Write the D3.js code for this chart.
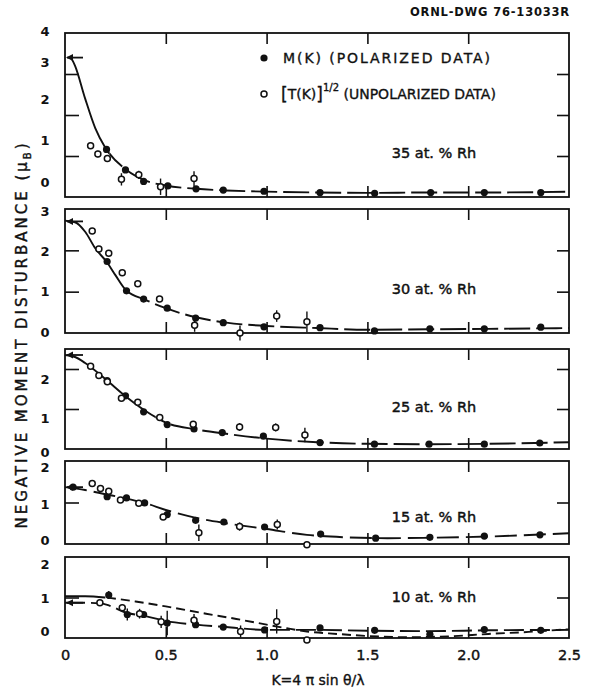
<!DOCTYPE html>
<html>
<head>
<meta charset="utf-8">
<script src="https://cdn.jsdelivr.net/npm/d3@7/dist/d3.min.js"></script>
<style>
  body { margin: 0; background: #fff; }
  text { font-family: 'DejaVu Sans', sans-serif; fill: #111; }
</style>
</head>
<body>
<div class="container"></div>
<script>
// values; K in 1/Angstrom, moment in mu_B
const kTicks = [0, 0.5, 1.0, 1.5, 2.0, 2.5]
const panelNames = ['35 at. % Rh', '30 at. % Rh', '25 at. % Rh', '15 at. % Rh', '10 at. % Rh']
const panelMax = [4, 3, 2.5, 2, 2]
const yTickLabels = [[0, 1, 2, 3, 4], [0, 1, 2, 3], [0, 1, 2], [0, 1, 2], [0, 1, 2]]
const momentAtZero = [3.4, 2.7, 2.35, 1.37, 0.87]

// M(K), polarized data: [K, M] (10 % also has error)
const rh35M = [[0.206, 1.16], [0.30, 0.66], [0.39, 0.38], [0.51, 0.27], [0.65, 0.2], [0.785, 0.17], [0.987, 0.14], [1.265, 0.11], [1.536, 0.09], [1.814, 0.11], [2.08, 0.11], [2.36, 0.11]]
const rh30M = [[0.209, 1.73], [0.305, 1.02], [0.39, 0.82], [0.507, 0.6], [0.648, 0.36], [0.785, 0.25], [0.987, 0.15], [1.265, 0.13], [1.535, 0.05], [1.81, 0.1], [2.08, 0.1], [2.36, 0.14]]
const rh25M = [[0.209, 1.71], [0.30, 1.33], [0.39, 0.93], [0.507, 0.61], [0.64, 0.5], [0.78, 0.41], [0.984, 0.32], [1.265, 0.16], [1.535, 0.12], [1.806, 0.12], [2.08, 0.12], [2.355, 0.15]]
const rh15M = [[0.04, 1.37], [0.209, 1.14], [0.305, 1.11], [0.395, 0.99], [0.507, 0.71], [0.648, 0.57], [0.788, 0.53], [0.99, 0.41], [1.268, 0.24], [1.541, 0.14], [1.81, 0.16], [2.08, 0.19], [2.356, 0.22]]
const rh10M = [[0.217, 1.06, 0.1], [0.309, 0.58, 0.15], [0.39, 0.58, 0], [0.507, 0.37, 0.3], [0.648, 0.33, 0], [0.785, 0.27, 0], [0.99, 0.2, 0], [1.265, 0.25, 0], [1.536, 0.19, 0], [1.81, 0.09, 0], [2.08, 0.21, 0], [2.36, 0.19, 0]]

// [T(K)]^1/2, unpolarized data: [K, value, error]
const rh35T = [[0.127, 1.25, 0.08], [0.163, 1.05, 0.08], [0.21, 0.94, 0.06], [0.28, 0.43, 0.15], [0.366, 0.54, 0.1], [0.474, 0.25, 0.2], [0.64, 0.45, 0.18]]
const rh30T = [[0.135, 2.47, 0], [0.168, 2.03, 0], [0.217, 1.93, 0], [0.284, 1.46, 0], [0.361, 1.19, 0], [0.469, 0.82, 0], [0.643, 0.19, 0.16], [0.868, 0.0, 0.18], [1.05, 0.41, 0.14], [1.2, 0.27, 0.25]]
const rh25T = [[0.127, 2.07, 0.05], [0.168, 1.84, 0], [0.21, 1.68, 0], [0.28, 1.27, 0], [0.361, 1.17, 0], [0.47, 0.79, 0], [0.636, 0.62, 0], [0.866, 0.55, 0.1], [1.045, 0.54, 0.1], [1.19, 0.35, 0.18]]
const rh15T = [[0.135, 1.46, 0], [0.176, 1.34, 0], [0.217, 1.27, 0.06], [0.275, 1.06, 0], [0.366, 0.98, 0], [0.487, 0.65, 0.06], [0.664, 0.27, 0.2], [0.866, 0.42, 0.1], [1.053, 0.47, 0.12], [1.2, -0.02, 0.05]]
const rh10T = [[0.173, 0.87, 0], [0.284, 0.75, 0.08], [0.37, 0.6, 0.12], [0.477, 0.4, 0.15], [0.64, 0.44, 0.15], [0.871, 0.16, 0.15], [1.05, 0.41, 0.3], [1.2, -0.05, 0]]

// drawn curves, points
const rh35Fit = [[0.03, 3.4], [0.05, 3.2], [0.1, 2.4], [0.15, 1.68], [0.2, 1.2], [0.3, 0.68], [0.4, 0.4], [0.5, 0.28], [0.65, 0.2], [0.8, 0.16], [1.0, 0.13], [1.25, 0.11], [1.5, 0.1], [1.8, 0.11], [2.1, 0.11], [2.5, 0.13]]
const rh30Fit = [[0, 2.72], [0.05, 2.68], [0.1, 2.45], [0.15, 2.05], [0.21, 1.7], [0.25, 1.4], [0.3, 1.05], [0.4, 0.8], [0.5, 0.6], [0.65, 0.38], [0.8, 0.25], [1.0, 0.17], [1.25, 0.12], [1.5, 0.08], [1.8, 0.09], [2.1, 0.1], [2.5, 0.12]]
const rh25Fit = [[0, 2.35], [0.05, 2.3], [0.1, 2.15], [0.2, 1.75], [0.3, 1.32], [0.4, 0.95], [0.5, 0.66], [0.65, 0.49], [0.8, 0.38], [1.0, 0.26], [1.25, 0.17], [1.5, 0.13], [1.8, 0.12], [2.1, 0.13], [2.5, 0.17]]
const rh15Fit = [[0, 1.37], [0.1, 1.3], [0.2, 1.2], [0.3, 1.1], [0.4, 0.98], [0.5, 0.82], [0.65, 0.63], [0.8, 0.5], [1.0, 0.36], [1.2, 0.22], [1.4, 0.16], [1.6, 0.14], [1.8, 0.15], [2.1, 0.18], [2.5, 0.26]]
const rh10Fit = [[0, 0.87], [0.1, 0.87], [0.17, 0.86], [0.22, 0.8], [0.3, 0.63], [0.4, 0.54], [0.5, 0.42], [0.65, 0.33], [0.8, 0.27], [1.0, 0.2], [1.25, 0.2], [1.5, 0.18], [1.8, 0.17], [2.1, 0.19], [2.5, 0.2]]
const rh10Fit2 = [[0, 1.03], [0.1, 1.03], [0.2, 1.0], [0.35, 0.9], [0.5, 0.78], [0.7, 0.6], [0.85, 0.47], [1.0, 0.33], [1.1, 0.24], [1.2, 0.16], [1.35, 0.1], [1.5, 0.05], [1.7, 0.02], [1.9, 0.04], [2.1, 0.1], [2.3, 0.15], [2.5, 0.22]]

const panels = [
  { M: rh35M, T: rh35T, fits: [rh35Fit] },
  { M: rh30M, T: rh30T, fits: [rh30Fit] },
  { M: rh25M, T: rh25T, fits: [rh25Fit] },
  { M: rh15M, T: rh15T, fits: [rh15Fit] },
  { M: rh10M, T: rh10T, fits: [rh10Fit, rh10Fit2] }
]

const w = 600
const h = 690
const boxes = [[33, 197], [209, 333], [349, 449], [461, 544], [557, 638]]
// hand lettering sits a little off the ticks
const labelNudge = [[-15, -16, -16, -12, -2], [-1, 0, 1, 2], [3, 9, 10], [-4, 2, 6], [-7, 1, 7]]
const nameY = [153, 289, 407, 517, 597]
const solidTo = [[0.22], [0.3], [0.45], [0], [0, 0.2]]
const dashes = [['26,6'], ['26,6'], ['26,6'], ['22,7'], ['20,6', '9,5']]
const ink = '#111'

const svg = d3.select('.container')
  .append('svg')
  .attr('width', w)
  .attr('height', h)

const x = d3.scaleLinear().domain([0, 2.5]).range([65, 569])

panels.forEach((p, i) => {
  const [top, bottom] = boxes[i]
  const y = d3.scaleLinear().domain([0, panelMax[i]]).range([bottom, top])
  const g = svg.append('g')

  // inner ticks
  const inner = kTicks.slice(1, -1)
  const yInner = yTickLabels[i].slice(1).filter(v => v < panelMax[i])
  g.append('g').attr('transform', `translate(0,${bottom})`)
    .call(d3.axisBottom(x).tickValues(inner).tickSize(-11).tickFormat(''))
  g.append('g').attr('transform', `translate(0,${top})`)
    .call(d3.axisTop(x).tickValues(inner).tickSize(-11).tickFormat(''))
  g.append('g').attr('transform', `translate(${x(0)},0)`)
    .call(d3.axisLeft(y).tickValues(yInner).tickSize(-14).tickFormat(''))
  g.append('g').attr('transform', `translate(${x(2.5)},0)`)
    .call(d3.axisRight(y).tickValues(yInner).tickSize(-12).tickFormat(''))
  g.selectAll('.domain').remove()
  g.selectAll('.tick line').attr('stroke', ink).attr('stroke-width', 1.6)

  // y labels
  g.selectAll('.ylab').data(yTickLabels[i]).enter().append('text')
    .attr('x', 45).attr('y', (d, j) => y(d) + labelNudge[i][j])
    .attr('text-anchor', 'middle').attr('dominant-baseline', 'central')
    .attr('font-size', 13).attr('font-weight', 'bold')
    .text(d => d)

  g.append('rect')
    .attr('x', x(0)).attr('y', top)
    .attr('width', x(2.5) - x(0)).attr('height', bottom - top)
    .attr('fill', 'none').attr('stroke', ink).attr('stroke-width', 1.8)

  // fitted curves: solid start, dashed rest
  const line = d3.line().x(d => x(d[0])).y(d => y(d[1])).curve(d3.curveMonotoneX)
  p.fits.forEach((f, j) => {
    const s = solidTo[i][j]
    g.append('clipPath').attr('id', `clipd${i}${j}`)
      .append('rect').attr('x', x(s)).attr('y', top - 20).attr('width', x(2.5) - x(s)).attr('height', bottom - top + 30)
    g.append('path').attr('d', line(f))
      .attr('fill', 'none').attr('stroke', ink).attr('stroke-width', 1.9)
      .attr('stroke-dasharray', dashes[i][j])
      .attr('clip-path', `url(#clipd${i}${j})`)
    if (s > 0) {
      g.append('clipPath').attr('id', `clips${i}${j}`)
        .append('rect').attr('x', x(0)).attr('y', top - 20).attr('width', x(s) - x(0)).attr('height', bottom - top + 30)
      g.append('path').attr('d', line(f))
        .attr('fill', 'none').attr('stroke', ink).attr('stroke-width', 1.9)
        .attr('clip-path', `url(#clips${i}${j})`)
    }
  })

  // arrow at K = 0
  const ay = y(momentAtZero[i])
  g.append('line').attr('x1', x(0) + 2).attr('x2', x(0) + 18).attr('y1', ay).attr('y2', ay)
    .attr('stroke', ink).attr('stroke-width', 1.8)
  g.append('path').attr('d', `M${x(0) + 1},${ay} l7,-3.5 l0,7 z`).attr('fill', ink)

  // error bars
  const bars = p.T.concat(p.M).filter(d => d[2])
  g.selectAll('.err').data(bars).enter().append('line')
    .attr('x1', d => x(d[0])).attr('x2', d => x(d[0]))
    .attr('y1', d => y(d[1] - d[2])).attr('y2', d => y(d[1] + d[2]))
    .attr('stroke', ink).attr('stroke-width', 1.4)

  g.selectAll('.mdot').data(p.M).enter().append('circle')
    .attr('cx', d => x(d[0])).attr('cy', d => y(d[1])).attr('r', 3.6).attr('fill', ink)

  g.selectAll('.tdot').data(p.T).enter().append('circle')
    .attr('cx', d => x(d[0])).attr('cy', d => y(d[1])).attr('r', 3)
    .attr('fill', '#fff').attr('stroke', ink).attr('stroke-width', 1.5)

  g.append('text')
    .text(panelNames[i])
    .attr('x', 434).attr('y', nameY[i])
    .attr('text-anchor', 'middle').attr('dominant-baseline', 'central')
    .attr('font-size', 14.5).attr('stroke', ink).attr('stroke-width', 0.45)
})

// bottom K axis labels
const xa = svg.append('g').attr('transform', `translate(0,${boxes[4][1]})`)
  .call(d3.axisBottom(x).tickValues(kTicks).tickSize(0).tickPadding(12)
    .tickFormat(d => d === 0 ? '0' : d.toFixed(1)))
xa.select('.domain').remove()
xa.selectAll('text').attr('font-size', 14.5).attr('font-family', "'DejaVu Sans', sans-serif")
  .attr('fill', ink).attr('stroke', ink).attr('stroke-width', 0.4)

svg.append('text')
  .attr('x', 318).attr('y', 685)
  .attr('text-anchor', 'middle').attr('font-size', 14)
  .attr('stroke', ink).attr('stroke-width', 0.35)
  .text('K=4 π sin θ/λ')

svg.append('text')
  .attr('transform', 'translate(27,336) rotate(-90)')
  .attr('text-anchor', 'middle').attr('font-size', 15)
  .attr('stroke', ink).attr('stroke-width', 0.4)
  .attr('textLength', 385).attr('lengthAdjust', 'spacing')
  .html('NEGATIVE MOMENT DISTURBANCE (μ<tspan font-size="10" dy="4">B</tspan><tspan dy="-4">)</tspan>')

svg.append('text')
  .attr('x', 570).attr('y', 16)
  .attr('text-anchor', 'end').attr('font-size', 11.5).attr('font-weight', 'bold')
  .attr('letter-spacing', 0.8)
  .text('ORNL-DWG 76-13033R')

// legend
svg.append('circle').attr('cx', 264).attr('cy', 58).attr('r', 3.6).attr('fill', ink)
svg.append('text').attr('x', 283).attr('y', 63).attr('font-size', 14)
  .attr('stroke', ink).attr('stroke-width', 0.35)
  .attr('textLength', 207).attr('lengthAdjust', 'spacing')
  .text('M(K) (POLARIZED DATA)')
svg.append('circle').attr('cx', 264).attr('cy', 94).attr('r', 3).attr('fill', '#fff')
  .attr('stroke', ink).attr('stroke-width', 1.5)
svg.append('text').attr('x', 281).attr('y', 99).attr('font-size', 14)
  .attr('stroke', ink).attr('stroke-width', 0.35)
  .html('<tspan font-size="17" dy="1">[</tspan><tspan dy="-1">T(K)</tspan><tspan font-size="17" dy="1">]</tspan><tspan font-size="10" dy="-9">1/2</tspan><tspan dy="8"> (UNPOLARIZED DATA)</tspan>')
</script>
</body>
</html>
